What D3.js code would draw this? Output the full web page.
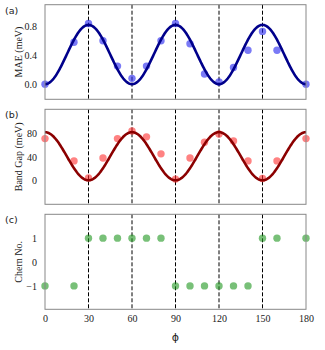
<!DOCTYPE html>
<html><head><meta charset="utf-8">
<script src="https://cdn.jsdelivr.net/npm/d3@7"></script>
<style>body{margin:0;background:#fff}svg{display:block}</style>
</head><body><div id="c"></div>
<script>
const phi = [0,20,30,40,50,60,70,80,90,100,110,120,130,140,150,160,180];
const mae = [0.0,0.58,0.84,0.60,0.25,0.08,0.25,0.60,0.84,0.56,0.14,0.03,0.23,0.47,0.73,0.47,0.0];
const gap = [71,33,4,38,71,84,74,45,2,38,65,79,67,33,3,33,71];
const chern = [-1,-1,1,1,1,1,1,1,-1,-1,-1,-1,-1,-1,1,1,1];
const xTicks = [0,30,60,90,120,150,180];
const dashX = [30,60,90,120,150];
const maeTicks = [0.0,0.4,0.8];
const gapTicks = [0,40,80];
const chernTicks = [-1,0,1];
// fitted cosine curves: peak value, phase of maximum in degrees, period in degrees
const maeFit = {max:0.82, peakAt:30, period:60};
const gapFit = {max:82, peakAt:0, period:60};

const W=325,H=350;
const svg=d3.select("#c").append("svg").attr("width",W).attr("height",H);
const x=d3.scaleLinear().domain([0,180]).range([45,306]);

const panels=[
 {top:4.7,bot:99.3,dom:[-0.21,1.1],ticks:maeTicks,fmt:d3.format(".1f"),label:"MAE  (meV)",tag:"(a)",vals:mae,pt:"rgba(40,40,240,0.62)",fit:maeFit,line:"#00008b"},
 {top:109.3,bot:204.3,dom:[-41,121],ticks:gapTicks,fmt:d3.format("d"),label:"Band Gap (meV)",tag:"(b)",vals:gap,pt:"rgba(255,40,40,0.58)",fit:gapFit,line:"#8b0000"},
 {top:214.3,bot:309.3,dom:[-1.98,2],ticks:chernTicks,fmt:d3.format("d"),label:"Chern No.",tag:"(c)",vals:chern,pt:"rgba(30,150,30,0.6)",fit:null}
];

panels.forEach(p=>{
  const y=d3.scaleLinear().domain(p.dom).range([p.bot,p.top]);
  const g=svg.append("g");
  g.selectAll("line.d").data(dashX).join("line")
    .attr("x1",d=>x(d)).attr("x2",d=>x(d)).attr("y1",p.top).attr("y2",p.bot)
    .attr("stroke","#000").attr("stroke-width",1).attr("stroke-dasharray","4,2");
  g.selectAll("circle").data(phi).join("circle")
    .attr("cx",d=>x(d)).attr("cy",(d,i)=>y(p.vals[i])).attr("r",3.7)
    .attr("fill",p.pt);
  if(p.fit){
    const f=p.fit;
    const xs=d3.range(0,180.01,0.5);
    const line=d3.line().x(d=>x(d)).y(d=>y(f.max/2*(1+Math.cos(2*Math.PI*(d-f.peakAt)/f.period))));
    g.append("path").datum(xs).attr("d",line).attr("fill","none")
      .attr("stroke",p.line).attr("stroke-width",2.6);
  }
  g.append("rect").attr("x",45).attr("y",p.top).attr("width",261).attr("height",p.bot-p.top)
    .attr("fill","none").attr("stroke","#888").attr("stroke-width",1);
  const ax=d3.axisLeft(y).tickValues(p.ticks).tickFormat(p.fmt).tickSize(0).tickPadding(8);
  const ag=svg.append("g").attr("transform","translate(45,0)").call(ax);
  ag.select(".domain").remove();
  ag.selectAll("text").attr("font-family","Liberation Serif").attr("font-size",10).attr("fill","#222");
  svg.append("text").attr("transform",`translate(22,${(p.top+p.bot)/2}) rotate(-90)`)
    .attr("text-anchor","middle").attr("font-family","Liberation Serif").attr("font-size",10)
    .attr("fill","#222").text(p.label);
  svg.append("text").attr("x",5).attr("y",p.top+9).attr("font-family","DejaVu Sans")
    .attr("font-size",9.5).attr("fill","#222").text(p.tag);
});
const xa=d3.axisBottom(x).tickValues(xTicks).tickSize(0).tickPadding(6);
const xg=svg.append("g").attr("transform","translate(0,309.3)").call(xa);
xg.select(".domain").remove();
xg.selectAll("text").attr("font-family","Liberation Serif").attr("font-size",10).attr("fill","#222");
svg.append("text").attr("x",175.5).attr("y",341).attr("text-anchor","middle")
  .attr("font-family","DejaVu Sans").attr("font-size",11).attr("fill","#222").text("ϕ");
</script></body></html>
